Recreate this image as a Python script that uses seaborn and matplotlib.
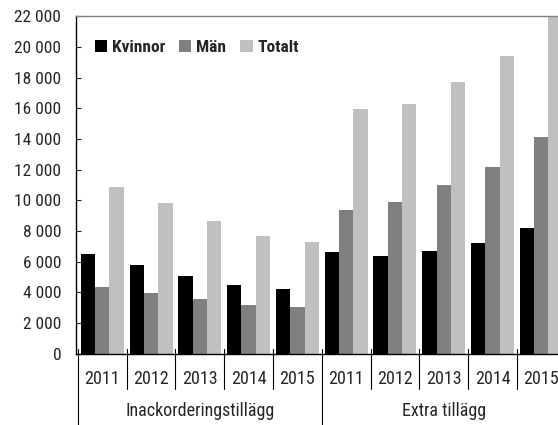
import pandas as pd
import matplotlib
matplotlib.use("Agg")
import matplotlib.pyplot as plt
import matplotlib.ticker as mticker
import matplotlib.transforms as mtransforms
import seaborn as sns

# Data
categories = ["Inackorderingstillägg", "Extra tillägg"]
years = ["2011", "2012", "2013", "2014", "2015"]
kvinnor = [6500, 5760, 5040, 4470, 4190, 6600, 6340, 6690, 7230, 8210]
man = [4330, 3970, 3540, 3170, 3040, 9340, 9880, 10970, 12140, 14100]
totalt = [10880, 9800, 8620, 7690, 7260, 15940, 16270, 17700, 19390, 22310]
series = ["Kvinnor", "Män", "Totalt"]
colors = ["#000000", "#808080", "#c0c0c0"]

# Long table for seaborn
slots = [f"{c}|{y}" for c in categories for y in years]
rows = []
for name, vals in zip(series, [kvinnor, man, totalt]):
    for s, v in zip(slots, vals):
        rows.append({"slot": s, "serie": name, "value": v})
df = pd.DataFrame(rows)

sns.set_style("white")
fonts = ['Roboto Condensed', 'DejaVu Sans']
plt.rcParams['font.family'] = fonts

fig = plt.figure(figsize=(5.58, 4.25), dpi=100)
ax = fig.add_axes([0.137, 0.168, 0.874, 0.794])

sns.barplot(data=df, x="slot", y="value", hue="serie", order=slots,
            hue_order=series, palette=colors, width=0.88, gap=0,
            linewidth=0, saturation=1, ax=ax)

ax.set_xlim(-0.53, 9.47)
ax.set_ylim(0, 22000)
ax.set_yticks(range(0, 22001, 2000))
ax.yaxis.set_major_formatter(
    mticker.FuncFormatter(lambda v, p: f"{v:,.0f}".replace(",", " ")))
ax.tick_params(axis="y", direction="in", length=3.6, width=0.8,
               pad=11, labelsize=12.5, left=True)
ax.set_xticks(range(len(slots)))
ax.set_xticklabels(years * 2, fontsize=13)
ax.tick_params(axis="x", length=0, pad=12)
ax.set_xlabel("")
ax.set_ylabel("")

for side in ["left", "bottom"]:
    ax.spines[side].set_color("black")
    ax.spines[side].set_linewidth(1)
ax.spines["top"].set_color("#808080")
ax.spines["top"].set_linewidth(1)
ax.spines["right"].set_visible(False)

# dividers below the axis
trans = mtransforms.blended_transform_factory(ax.transData, ax.transAxes)
for i in range(len(slots) + 1):
    x = i - 0.5
    low = -0.25 if i % 5 == 0 else -0.105
    ax.plot([x, x], [0.015, low], color="black", lw=0.8,
            transform=trans, clip_on=False)

for k, c in enumerate(categories):
    ax.text(2 + 5 * k, -0.17, c, transform=trans, ha="center", va="center",
            fontsize=13)

leg = ax.legend(loc="upper left", bbox_to_anchor=(0.005, 0.975), ncol=3,
                frameon=False, handlelength=0.7, handleheight=0.7,
                handletextpad=0.3, columnspacing=0.8,
                prop={"weight": "bold", "size": 12.5, "family": fonts})

fig.savefig("out.png", dpi=100)
